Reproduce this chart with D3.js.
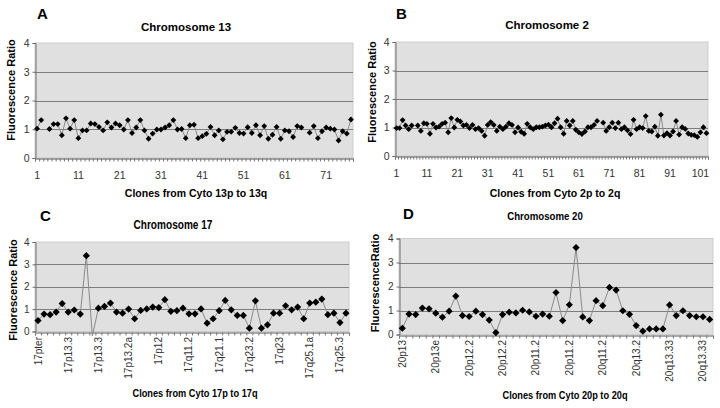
<!DOCTYPE html>
<html><head><meta charset="utf-8">
<script src="https://cdn.jsdelivr.net/npm/d3@7"></script>
<style>
body{margin:0;background:#fff}
svg{display:block}
text{font-family:"Liberation Sans",Arial,Helvetica,sans-serif}
</style>
</head><body>
<svg id="chart" width="720" height="408"></svg>
<script>
// ---------- data ----------
const yTickValues = [0, 1, 2, 3, 4];

const chr13Ratio = [1.02,1.32,null,1.01,1.18,1.18,0.79,1.38,1.02,1.32,
  0.69,0.96,0.96,1.2,1.18,1.08,0.96,1.24,1.06,1.2,
  1.14,0.99,1.32,0.87,1.06,1.32,0.96,0.67,0.85,0.99,
  0.99,1.06,1.14,1.32,0.99,1.01,0.69,1.14,1.16,0.69,
  0.76,0.84,1.08,0.79,0.96,0.65,0.91,0.91,1.05,0.87,
  0.85,1.07,0.87,1.14,0.79,1.11,0.67,0.81,1.08,0.67,
  0.96,0.93,0.73,1.11,1.06,null,0.88,1.11,0.69,0.93,
  1.06,1.02,0.99,0.61,0.93,0.85,1.34];
const chr13TickLabels = ["1","11","21","31","41","51","61","71"];

const chr2Ratio = [0.98,0.98,1.26,1.07,0.94,1.07,null,1.07,0.88,1.15,
  1.13,0.78,1.13,1.0,1.03,1.13,1.17,0.83,1.33,1.0,
  1.27,1.21,1.07,1.09,0.98,1.09,0.94,0.98,0.88,0.71,
  1.09,1.19,1.09,0.88,1.03,0.94,1.03,1.15,1.09,0.83,
  1.0,0.85,0.78,1.13,1.01,0.94,1.01,1.01,1.03,1.07,
  1.1,1.01,1.15,1.31,1.01,0.78,1.23,1.07,1.23,0.92,
  0.83,0.77,0.86,1.01,1.01,1.09,1.23,null,1.17,0.88,
  1.01,1.17,0.98,1.17,0.94,1.01,0.9,0.77,1.27,0.94,
  1.01,0.98,1.4,0.88,0.86,1.03,0.71,1.45,0.72,0.8,
  0.72,0.86,1.23,0.75,1.01,0.95,0.79,0.74,0.73,0.67,
  0.83,1.01,0.8];
const chr2TickLabels = ["1","11","21","31","41","51","61","71","81","91","101"];

const chr17Ratio = [0.49,0.78,0.75,0.87,1.25,0.87,0.96,0.78,3.39,-0.2,
  1.04,1.12,1.27,0.87,0.82,1.0,0.57,0.94,1.01,1.09,
  1.07,1.42,0.9,0.93,1.04,0.79,0.79,1.01,0.37,0.57,
  0.93,1.39,0.97,0.72,0.72,0.15,1.37,0.15,0.3,0.82,
  0.82,1.15,0.97,1.09,0.57,1.27,1.31,1.45,0.75,0.82,
  0.4,0.82];
const chr17TickLabels = ["17pter","17p13.3","17p13.3","17p13.2a","17p12","17q11.2",
  "17q21.1","17q23.2","17q23","17q25.1a","17q25.3"];

const chr20Ratio = [0.26,0.85,0.83,1.1,1.07,0.89,0.72,0.97,1.6,0.79,
  0.75,0.97,0.83,0.6,0.08,0.83,0.93,0.9,1.01,0.94,
  0.76,0.85,0.76,1.75,0.58,1.24,3.62,0.73,0.58,1.41,
  1.2,1.96,1.85,0.99,0.84,0.37,0.14,0.23,0.23,0.23,
  1.23,0.79,0.99,0.79,0.74,0.74,0.63];
const chr20TickLabels = ["20p13","20p13e","20p12.2","20p12.2","20p11.2","20p11.2",
  "20q11.2","20q13.2","20q13.33","20q13.33"];

// ---------- drawing ----------
const svg = d3.select("#chart");

function boldText(g, x, y, size, sx, txt) {
  return g.append("text")
    .attr("transform", `translate(${x},${y}) scale(${sx},1)`)
    .attr("text-anchor", "middle")
    .attr("font-size", size).attr("font-weight", "bold").attr("fill", "#000").text(txt);
}

function drawPanel(cfg) {
  const g = svg.append("g");
  const n = cfg.values.length;
  const categories = cfg.values.map((v, i) => i + 1);
  const x = d3.scaleBand().domain(categories).range([cfg.left, cfg.right]);
  const xEdge = d3.scaleLinear().domain([0, n]).range([cfg.left, cfg.right]);
  const y = d3.scaleLinear().domain([0, 4]).range([cfg.bottom, cfg.top]);
  const cx = c => x(c) + x.bandwidth() / 2;

  // plot area
  g.append("rect")
    .attr("x", cfg.left).attr("y", cfg.top)
    .attr("width", cfg.right - cfg.left).attr("height", cfg.bottom - cfg.top)
    .attr("fill", "#e0e0e0").attr("stroke", "#cdcdcd").attr("stroke-width", 1);

  // gridlines
  g.selectAll("line.grid").data(yTickValues.filter(v => v > 0 && v < 4)).join("line")
    .attr("x1", cfg.left).attr("x2", cfg.right)
    .attr("y1", d => Math.round(y(d)) + 0.5).attr("y2", d => Math.round(y(d)) + 0.5)
    .attr("stroke", "#7d7d7d").attr("stroke-width", 1);

  // y axis
  const yAxis = g.append("g").attr("transform", `translate(${cfg.left + 0.5},0)`)
    .call(d3.axisLeft(y).tickValues(yTickValues).tickSize(3).tickPadding(3).tickFormat(d3.format("d")));
  yAxis.select(".domain").attr("stroke", "#6e6e6e");
  yAxis.selectAll(".tick line").attr("stroke", "#6e6e6e");
  yAxis.selectAll(".tick text").attr("font-size", cfg.tickFont).attr("fill", "#333")
    .attr("font-family", "Liberation Sans, Arial, sans-serif");

  // x axis with tick marks at category boundaries
  const xAxis = g.append("g").attr("transform", `translate(0,${Math.round(cfg.bottom) + 0.5})`)
    .call(d3.axisBottom(xEdge).tickValues(d3.range(n + 1)).tickSize(3).tickFormat(""));
  xAxis.select(".domain").attr("stroke", "#555");
  xAxis.selectAll(".tick line").attr("stroke", "#777");

  // category labels
  const labelData = cfg.tickLabels.map((t, k) => ({ t, c: categories[k * cfg.labelStep] }));
  if (cfg.rotate) {
    g.selectAll("text.xl").data(labelData).join("text")
      .attr("transform", d => `translate(${cx(d.c)},${cfg.bottom + 5.5}) rotate(-90)`)
      .attr("dy", "0.35em").attr("text-anchor", "end")
      .attr("font-size", cfg.tickFont).attr("fill", "#333").text(d => d.t);
  } else {
    g.selectAll("text.xl").data(labelData).join("text")
      .attr("x", d => cx(d.c)).attr("y", cfg.bottom + 20.5)
      .attr("text-anchor", "middle")
      .attr("font-size", cfg.tickFont).attr("fill", "#333").text(d => d.t);
  }

  // series line
  const pts = cfg.values.map((v, i) => ({ c: categories[i], v }));
  g.append("path").datum(pts)
    .attr("fill", "none").attr("stroke", "#8a8a8a").attr("stroke-width", 1)
    .attr("d", d3.line().defined(d => d.v != null).x(d => cx(d.c)).y(d => y(d.v)));

  // diamond markers
  const sym = d3.symbol(d3.symbolSquare, cfg.markerSize);
  g.selectAll("path.mk").data(pts.filter(d => d.v != null && d.v >= 0)).join("path")
    .attr("transform", d => `translate(${cx(d.c)},${y(d.v)}) rotate(45)`)
    .attr("d", sym).attr("fill", "#000");

  // panel letter
  g.append("text").attr("x", cfg.letterX).attr("y", cfg.letterY)
    .attr("font-size", 15).attr("font-weight", "bold").attr("fill", "#000").text(cfg.letter);
  // chart title
  boldText(g, cfg.titleX, cfg.titleY, cfg.titleFont, cfg.squeeze, cfg.title);
  // y title
  g.append("text").attr("transform", `translate(${cfg.yTitleX},${cfg.yTitleY}) rotate(-90)`)
    .attr("text-anchor", "middle").attr("dy", "0.35em")
    .attr("font-size", 11).attr("font-weight", "bold").attr("fill", "#000").text(cfg.yTitle);
  // x title
  boldText(g, cfg.xTitleX, cfg.xTitleY, cfg.xTitleFont, cfg.squeeze, cfg.xTitle);
}

drawPanel({
  values: chr13Ratio, tickLabels: chr13TickLabels, labelStep: 10, rotate: false,
  left: 35, right: 353, top: 43, bottom: 158,
  tickFont: 10.5, markerSize: 17, squeeze: 1,
  letter: "A", letterX: 37, letterY: 19,
  title: "Chromosome 13", titleX: 186, titleY: 31, titleFont: 11.5,
  yTitle: "Fluorescence Ratio", yTitleX: 11, yTitleY: 90,
  xTitle: "Clones from Cyto 13p to 13q", xTitleX: 196, xTitleY: 197, xTitleFont: 10.5
});
drawPanel({
  values: chr2Ratio, tickLabels: chr2TickLabels, labelStep: 10, rotate: false,
  left: 395, right: 708, top: 42, bottom: 156,
  tickFont: 10.5, markerSize: 17, squeeze: 1,
  letter: "B", letterX: 396, letterY: 19,
  title: "Chromosome 2", titleX: 547, titleY: 29, titleFont: 11.5,
  yTitle: "Fluorescence Ratio", yTitleX: 372, yTitleY: 92,
  xTitle: "Clones from Cyto 2p to 2q", xTitleX: 555, xTitleY: 197, xTitleFont: 10.5
});
drawPanel({
  values: chr17Ratio, tickLabels: chr17TickLabels, labelStep: 5, rotate: true,
  left: 35, right: 349, top: 242, bottom: 331.5,
  tickFont: 10, markerSize: 26, squeeze: 0.84,
  letter: "C", letterX: 40, letterY: 221,
  title: "Chromosome 17", titleX: 173, titleY: 229, titleFont: 12,
  yTitle: "Fluorescence Ratio", yTitleX: 13, yTitleY: 290,
  xTitle: "Clones from Cyto 17p to 17q", xTitleX: 195, xTitleY: 397, xTitleFont: 11
});
drawPanel({
  values: chr20Ratio, tickLabels: chr20TickLabels, labelStep: 5, rotate: true,
  left: 399, right: 713, top: 238.5, bottom: 334.5,
  tickFont: 10, markerSize: 26, squeeze: 0.84,
  letter: "D", letterX: 403, letterY: 219,
  title: "Chromosome 20", titleX: 545, titleY: 220, titleFont: 11.5,
  yTitle: "FluorescenceRatio", yTitleX: 375, yTitleY: 283,
  xTitle: "Clones from Cyto 20p to 20q", xTitleX: 565, xTitleY: 399, xTitleFont: 11
});
</script>
</body></html>
